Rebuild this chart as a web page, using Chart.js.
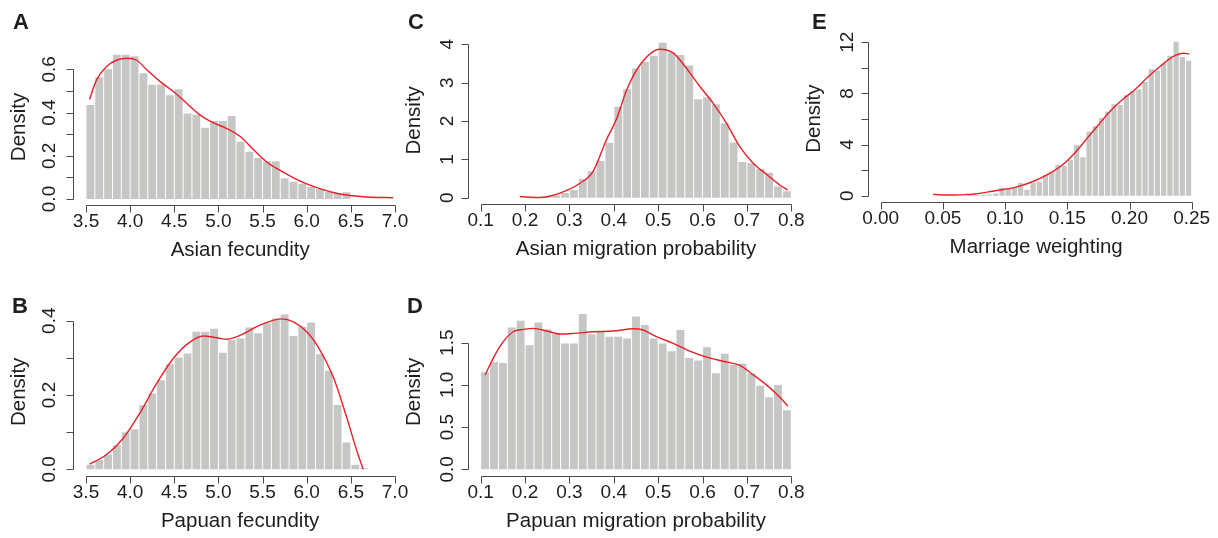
<!DOCTYPE html>
<html><head><meta charset="utf-8">
<script src="https://cdn.jsdelivr.net/npm/chart.js@4.4.1/dist/chart.umd.min.js"></script>
<style>
html,body{margin:0;padding:0;background:#fff;}
#wrap{position:relative;width:1218px;height:538px;overflow:hidden;background:#fff;}
canvas{position:absolute;left:0;top:0;}
</style></head><body><div id="wrap">
<canvas id="cA" width="1218" height="538"></canvas>
<canvas id="cB" width="1218" height="538"></canvas>
<canvas id="cC" width="1218" height="538"></canvas>
<canvas id="cD" width="1218" height="538"></canvas>
<canvas id="cE" width="1218" height="538"></canvas>
</div>
<script>
// ---------- DATA ----------
// A: Asian fecundity (bin width 0.1)
const aBinLeft = [3.5,3.6,3.7,3.8,3.9,4.0,4.1,4.2,4.3,4.4,4.5,4.6,4.7,4.8,4.9,5.0,5.1,5.2,5.3,5.4,5.5,5.6,5.7,5.8,5.9,6.0,6.1,6.2,6.3,6.4];
const aDensity = [0.435,0.563,0.600,0.667,0.667,0.660,0.582,0.528,0.530,0.480,0.508,0.395,0.390,0.330,0.361,0.361,0.384,0.265,0.219,0.190,0.175,0.175,0.096,0.080,0.071,0.056,0.046,0.035,0.028,0.031];
const aCurveX = [3.54,3.62,3.73,3.85,3.97,4.07,4.19,4.34,4.49,4.64,4.79,4.94,5.09,5.25,5.40,5.55,5.70,5.85,6.00,6.15,6.30,6.49,6.68,6.98];
const aCurveY = [0.461,0.551,0.612,0.643,0.651,0.643,0.597,0.543,0.497,0.443,0.389,0.353,0.327,0.288,0.227,0.170,0.132,0.098,0.070,0.048,0.030,0.016,0.009,0.006];
const aXTicks = [3.5,4.0,4.5,5.0,5.5,6.0,6.5,7.0];
const aXLabels = ['3.5','4.0','4.5','5.0','5.5','6.0','6.5','7.0'];
const aYTicks = [0,0.1,0.2,0.3,0.4,0.5,0.6];
const aYLabels = ['0.0','','0.2','','0.4','','0.6'];

// B: Papuan fecundity (bin width 0.1)
const bBinLeft = [3.5,3.6,3.7,3.8,3.9,4.0,4.1,4.2,4.3,4.4,4.5,4.6,4.7,4.8,4.9,5.0,5.1,5.2,5.3,5.4,5.5,5.6,5.7,5.8,5.9,6.0,6.1,6.2,6.3,6.4,6.5,6.6];
const bDensity = [0.012,0.025,0.040,0.065,0.100,0.108,0.173,0.204,0.240,0.283,0.301,0.312,0.370,0.370,0.378,0.314,0.348,0.352,0.382,0.366,0.393,0.406,0.417,0.359,0.384,0.395,0.310,0.265,0.173,0.072,0.012,0.003];
const bCurveX = [3.54,3.73,3.92,4.11,4.30,4.49,4.68,4.83,4.98,5.09,5.25,5.47,5.72,5.85,6.00,6.15,6.30,6.45,6.57,6.64];
const bCurveY = [0.014,0.039,0.083,0.151,0.231,0.299,0.343,0.359,0.354,0.350,0.361,0.388,0.405,0.397,0.370,0.321,0.249,0.142,0.048,0.000];
const bXTicks = [3.5,4.0,4.5,5.0,5.5,6.0,6.5,7.0];
const bXLabels = ['3.5','4.0','4.5','5.0','5.5','6.0','6.5','7.0'];
const bYTicks = [0,0.1,0.2,0.3,0.4];
const bYLabels = ['0.0','','0.2','','0.4'];

// C: Asian migration probability (bin width 0.02)
const cBinLeft = [0.24,0.26,0.28,0.30,0.32,0.34,0.36,0.38,0.40,0.42,0.44,0.46,0.48,0.50,0.52,0.54,0.56,0.58,0.60,0.62,0.64,0.66,0.68,0.70,0.72,0.74,0.76,0.78];
const cDensity = [0.02,0.06,0.12,0.20,0.49,0.69,0.96,1.43,2.37,2.83,3.37,3.54,3.70,4.04,3.79,3.72,3.45,2.57,2.62,2.44,1.94,1.44,0.93,0.90,0.75,0.65,0.29,0.17];
const cCurveX = [0.188,0.233,0.260,0.294,0.323,0.353,0.383,0.406,0.429,0.459,0.504,0.534,0.564,0.594,0.624,0.654,0.684,0.714,0.744,0.774,0.792];
const cCurveY = [0.03,0.005,0.05,0.19,0.37,0.68,1.50,2.05,2.81,3.46,3.87,3.77,3.37,2.90,2.46,1.94,1.33,0.90,0.61,0.33,0.20];
const cXTicks = [0.1,0.2,0.3,0.4,0.5,0.6,0.7,0.8];
const cXLabels = ['0.1','0.2','0.3','0.4','0.5','0.6','0.7','0.8'];
const cYTicks = [0,1,2,3,4];
const cYLabels = ['0','1','2','3','4'];

// D: Papuan migration probability (bin width 0.02)
const dBinLeft = [0.10,0.12,0.14,0.16,0.18,0.20,0.22,0.24,0.26,0.28,0.30,0.32,0.34,0.36,0.38,0.40,0.42,0.44,0.46,0.48,0.50,0.52,0.54,0.56,0.58,0.60,0.62,0.64,0.66,0.68,0.70,0.72,0.74,0.76,0.78];
const dDensity = [1.15,1.27,1.26,1.68,1.76,1.47,1.74,1.66,1.61,1.49,1.49,1.84,1.60,1.64,1.57,1.57,1.55,1.81,1.71,1.55,1.49,1.40,1.65,1.32,1.29,1.445,1.137,1.37,1.235,1.25,1.137,0.99,0.855,1.00,0.70];
const dCurveX = [0.110,0.128,0.151,0.173,0.196,0.219,0.249,0.279,0.309,0.354,0.399,0.444,0.466,0.496,0.534,0.571,0.609,0.646,0.684,0.714,0.744,0.774,0.792];
const dCurveY = [1.117,1.315,1.512,1.630,1.658,1.670,1.638,1.603,1.610,1.630,1.638,1.666,1.650,1.571,1.492,1.400,1.330,1.280,1.230,1.120,1.000,0.855,0.750];
const dXTicks = [0.1,0.2,0.3,0.4,0.5,0.6,0.7,0.8];
const dXLabels = ['0.1','0.2','0.3','0.4','0.5','0.6','0.7','0.8'];
const dYTicks = [0,0.5,1.0,1.5];
const dYLabels = ['0.0','0.5','1.0','1.5'];

// E: Marriage weighting (bin width 0.005)
const eBinLeft = [0.070,0.075,0.080,0.085,0.090,0.095,0.100,0.105,0.110,0.115,0.120,0.125,0.130,0.135,0.140,0.145,0.150,0.155,0.160,0.165,0.170,0.175,0.180,0.185,0.190,0.195,0.200,0.205,0.210,0.215,0.220,0.225,0.230,0.235,0.240,0.245];
const eDensity = [0.03,0.05,0.08,0.10,0.18,0.63,0.63,0.65,0.99,0.44,1.02,1.10,1.62,1.88,2.40,2.35,2.79,3.97,3.00,5.00,5.45,6.05,6.57,7.15,7.10,7.85,8.20,8.30,8.90,9.90,9.80,10.35,10.95,12.05,10.85,10.55];
const eCurveX = [0.042,0.056,0.069,0.076,0.092,0.108,0.124,0.135,0.146,0.157,0.167,0.175,0.184,0.194,0.204,0.215,0.226,0.236,0.243,0.248];
const eCurveY = [0.10,0.05,0.09,0.13,0.39,0.65,1.17,1.70,2.40,3.44,4.62,5.53,6.57,7.49,8.27,9.31,10.23,10.93,11.14,11.09];
const eXTicks = [0.00,0.05,0.10,0.15,0.20,0.25];
const eXLabels = ['0.00','0.05','0.10','0.15','0.20','0.25'];
const eYTicks = [0,2,4,6,8,10,12];
const eYLabels = ['0','','4','','8','','12'];

// ---------- LAYOUT / STYLE ----------
const FONT = '"Liberation Sans", Arial, Helvetica, sans-serif';
const panels = [
  {id:'cA', letter:'A', lx:13, ly:29, bins:aBinLeft, h:aDensity, w:0.1, cx:aCurveX, cy:aCurveY,
   xt:aXTicks, xl:aXLabels, yt:aYTicks, yl:aYLabels, xtitle:'Asian fecundity',
   box:{left:73.3, bottom:205, top:49, right:407}, xmap:[3.5,86,7.0,395], ymap:[0,199,0.6,69.3], ylOff:18},
  {id:'cB', letter:'B', lx:12, ly:313, bins:bBinLeft, h:bDensity, w:0.1, cx:bCurveX, cy:bCurveY,
   xt:bXTicks, xl:bXLabels, yt:bYTicks, yl:bYLabels, xtitle:'Papuan fecundity',
   box:{left:73.3, bottom:475.7, top:308, right:407}, xmap:[3.5,86,7.0,395], ymap:[0,469.3,0.4,320.7], ylOff:18},
  {id:'cC', letter:'C', lx:408, ly:29, bins:cBinLeft, h:cDensity, w:0.02, cx:cCurveX, cy:cCurveY,
   xt:cXTicks, xl:cXLabels, yt:cYTicks, yl:cYLabels, xtitle:'Asian migration probability',
   box:{left:468.3, bottom:204, top:36.7, right:803.7}, xmap:[0.1,480.7,0.8,791.3], ymap:[0,197.7,4,44.3], ylOff:15},
  {id:'cD', letter:'D', lx:407, ly:313, bins:dBinLeft, h:dDensity, w:0.02, cx:dCurveX, cy:dCurveY,
   xt:dXTicks, xl:dXLabels, yt:dYTicks, yl:dYLabels, xtitle:'Papuan migration probability',
   box:{left:468.3, bottom:475.7, top:308, right:803.7}, xmap:[0.1,480.7,0.8,791.3], ymap:[0,469.3,1.5,342.7], ylOff:15},
  {id:'cE', letter:'E', lx:812, ly:29, bins:eBinLeft, h:eDensity, w:0.005, cx:eCurveX, cy:eCurveY,
   xt:eXTicks, xl:eXLabels, yt:eYTicks, yl:eYLabels, xtitle:'Marriage weighting',
   box:{left:868.3, bottom:201.7, top:35.6, right:1204}, xmap:[0,880.7,0.25,1191.7], ymap:[0,195.7,12,42.3], ylOff:15}
];

function makePanel(p){
  const b = p.box;
  const sx = (p.xmap[3]-p.xmap[1])/(p.xmap[2]-p.xmap[0]);
  const sy = (p.ymap[1]-p.ymap[3])/(p.ymap[2]-p.ymap[0]);
  const xmin = p.xmap[0] - (p.xmap[1]-b.left)/sx;
  const xmax = p.xmap[0] + (b.right-p.xmap[1])/sx;
  const ymin = p.ymap[0] - (b.bottom-p.ymap[1])/sy;
  const ymax = p.ymap[0] + (p.ymap[1]-b.top)/sy;
  const bars = p.bins.map((l,i)=>({x:l+p.w/2, y:p.h[i]}));
  const curve = p.cx.map((x,i)=>({x:x, y:p.cy[i]}));

  const rAxes = {
    id:'rAxes'+p.letter,
    afterDraw(chart){
      const ctx = chart.ctx, ca = chart.chartArea, xs = chart.scales.x, ys = chart.scales.y;
      const X = v => Math.round(xs.getPixelForValue(v))+0.5;
      const Y = v => Math.round(ys.getPixelForValue(v))+0.5;
      const ay = Math.round(ca.bottom)+0.5, ax = Math.round(ca.left)+0.5;
      ctx.save();
      ctx.strokeStyle = '#4a4a4a'; ctx.lineWidth = 1;
      ctx.beginPath();
      ctx.moveTo(X(p.xt[0]), ay); ctx.lineTo(X(p.xt[p.xt.length-1]), ay);
      p.xt.forEach(v=>{ ctx.moveTo(X(v), ay); ctx.lineTo(X(v), ay+7); });
      ctx.moveTo(ax, Y(p.yt[0])); ctx.lineTo(ax, Y(p.yt[p.yt.length-1]));
      p.yt.forEach(v=>{ ctx.moveTo(ax, Y(v)); ctx.lineTo(ax-7, Y(v)); });
      ctx.stroke();
      ctx.fillStyle = '#1e1e1e';
      ctx.font = '19px '+FONT;
      ctx.textAlign = 'center'; ctx.textBaseline = 'alphabetic';
      p.xt.forEach((v,i)=>{ if(p.xl[i]) ctx.fillText(p.xl[i], xs.getPixelForValue(v), ca.bottom+22); });
      p.yt.forEach((v,i)=>{
        if(p.yl[i]){ ctx.save(); ctx.translate(ca.left-p.ylOff, ys.getPixelForValue(v)); ctx.rotate(-Math.PI/2); ctx.fillText(p.yl[i],0,0); ctx.restore(); }
      });
      ctx.font = '20.5px '+FONT;
      ctx.fillText(p.xtitle, (ca.left+ca.right)/2, ca.bottom+51);
      ctx.save(); ctx.translate(ca.left-48.5, (ca.top+ca.bottom)/2); ctx.rotate(-Math.PI/2); ctx.fillText('Density',0,0); ctx.restore();
      ctx.font = 'bold 22px '+FONT; ctx.textAlign = 'left';
      ctx.fillText(p.letter, p.lx, p.ly);
      ctx.restore();
    }
  };

  new Chart(document.getElementById(p.id), {
    type:'bar',
    data:{datasets:[
      {type:'line', data:curve, borderColor:'#e8202a', borderWidth:1.4, pointRadius:0,
       cubicInterpolationMode:'monotone', fill:false, order:0},
      {type:'bar', data:bars, backgroundColor:'#c6c6c4', borderWidth:0,
       barPercentage:1-1/(p.w*sx), categoryPercentage:1, order:1}
    ]},
    options:{
      responsive:false, animation:false, events:[],
      layout:{padding:{left:b.left, top:b.top, right:1218-b.right, bottom:538-b.bottom}},
      plugins:{legend:{display:false}, tooltip:{enabled:false}, title:{display:false}},
      scales:{
        x:{type:'linear', display:false, min:xmin, max:xmax, offset:false},
        y:{type:'linear', display:false, min:ymin, max:ymax}
      }
    },
    plugins:[rAxes]
  });
}
panels.forEach(makePanel);
</script>
</body></html>
